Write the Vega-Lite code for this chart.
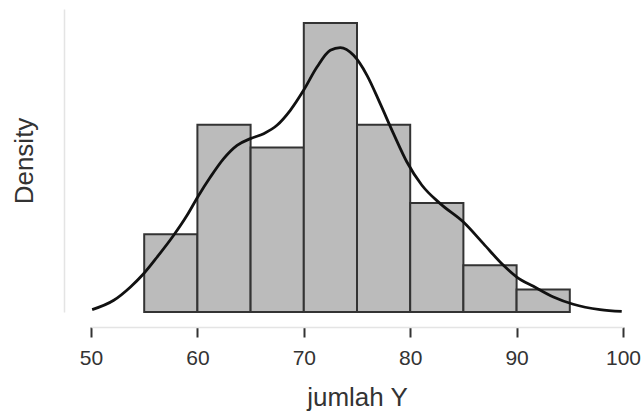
{
  "$schema": "https://vega.github.io/schema/vega-lite/v6.json",
  "autosize": {"type": "none"},
  "padding": {"left": 91, "top": 9, "right": 21, "bottom": 103},
  "width": 532,
  "height": 303,
  "background": "white",
  "config": {
    "view": {"stroke": null},
    "font": "Liberation Sans"
  },
  "datasets": {
    "bins": [
      {"bin_start": 55, "bin_end": 60, "density": 0.01428},
      {"bin_start": 60, "bin_end": 65, "density": 0.03444},
      {"bin_start": 65, "bin_end": 70, "density": 0.03022},
      {"bin_start": 70, "bin_end": 75, "density": 0.05312},
      {"bin_start": 75, "bin_end": 80, "density": 0.03444},
      {"bin_start": 80, "bin_end": 85, "density": 0.02003},
      {"bin_start": 85, "bin_end": 90, "density": 0.00858},
      {"bin_start": 90, "bin_end": 95, "density": 0.00412}
    ],
    "curve": [
      {"x": 50.11, "d": 0.00044},
      {"x": 52.14, "d": 0.00215},
      {"x": 53.71, "d": 0.00460},
      {"x": 54.90, "d": 0.00693},
      {"x": 56.22, "d": 0.01011},
      {"x": 57.77, "d": 0.01410},
      {"x": 59.03, "d": 0.01777},
      {"x": 60.03, "d": 0.02114},
      {"x": 61.22, "d": 0.02481},
      {"x": 62.47, "d": 0.02820},
      {"x": 63.73, "d": 0.03064},
      {"x": 64.98, "d": 0.03187},
      {"x": 66.23, "d": 0.03279},
      {"x": 67.48, "d": 0.03432},
      {"x": 68.73, "d": 0.03707},
      {"x": 69.98, "d": 0.04075},
      {"x": 71.24, "d": 0.04503},
      {"x": 72.49, "d": 0.04810},
      {"x": 73.43, "d": 0.04860},
      {"x": 74.68, "d": 0.04718},
      {"x": 75.94, "d": 0.04351},
      {"x": 77.18, "d": 0.03830},
      {"x": 78.43, "d": 0.03279},
      {"x": 79.69, "d": 0.02757},
      {"x": 81.10, "d": 0.02330},
      {"x": 82.82, "d": 0.01992},
      {"x": 85.00, "d": 0.01654},
      {"x": 86.88, "d": 0.01257},
      {"x": 88.76, "d": 0.00858},
      {"x": 90.02, "d": 0.00643},
      {"x": 91.58, "d": 0.00472},
      {"x": 93.46, "d": 0.00276},
      {"x": 95.33, "d": 0.00142},
      {"x": 97.84, "d": 0.00044},
      {"x": 99.88, "d": 0.00010}
    ]
  },
  "layer": [
    {
      "data": {"name": "bins"},
      "mark": {"type": "rect", "fill": "#bbbbbb", "stroke": "#333333", "strokeWidth": 2},
      "encoding": {
        "x": {
          "field": "bin_start", "type": "quantitative",
          "scale": {"domain": [50, 100], "nice": false, "zero": false},
          "axis": {
            "title": "jumlah Y",
            "values": [50, 60, 70, 80, 90, 100],
            "offset": 15,
            "domainColor": "#e4e4e4",
            "domainWidth": 1.5,
            "tickColor": "#333333",
            "tickWidth": 2,
            "tickSize": 10,
            "labelFontSize": 21,
            "labelColor": "#333333",
            "labelPadding": 10,
            "labelFlush": false,
            "titleFontSize": 26,
            "titleFontWeight": "normal",
            "titleColor": "#333333",
            "titlePadding": 16,
            "grid": false
          }
        },
        "x2": {"field": "bin_end"},
        "y": {
          "field": "density", "type": "quantitative",
          "scale": {"domain": [0, 0.0557], "nice": false},
          "axis": {
            "title": "Density",
            "offset": 27,
            "labels": false,
            "ticks": false,
            "grid": false,
            "domainColor": "#e4e4e4",
            "domainWidth": 1.5,
            "titleFontSize": 26,
            "titleFontWeight": "normal",
            "titleColor": "#333333",
            "titlePadding": 27
          }
        },
        "y2": {"datum": 0}
      }
    },
    {
      "data": {"name": "curve"},
      "mark": {"type": "line", "color": "#111111", "strokeWidth": 2.8, "interpolate": "monotone"},
      "encoding": {
        "x": {"field": "x", "type": "quantitative"},
        "y": {"field": "d", "type": "quantitative"}
      }
    }
  ]
}
